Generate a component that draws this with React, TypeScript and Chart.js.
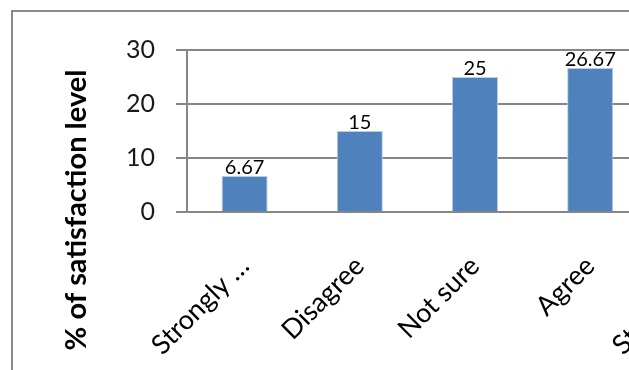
import React, { useEffect, useRef } from "react";
import { Chart, registerables } from "chart.js";

Chart.register(...registerables);

// Survey responses and their share of respondents (%)
const categories = ["Strongly …", "Disagree", "Not sure", "Agree", "Strongly …"];
const values = [6.67, 15, 25, 26.67, 26.66];
const yTicks = [0, 10, 20, 30];
const axisTitle = "% of satisfaction level";

const FONT = "Lato, 'Open Sans', 'DejaVu Sans', sans-serif";
const GRID = "#868686";
const CANVAS_W = 800;
const CANVAS_H = 420;

// Outer frame of the chart area (only the left and top edges fall in view)
const framePlugin = {
  id: "frame",
  beforeDraw(chart: Chart) {
    const { ctx } = chart;
    ctx.save();
    ctx.fillStyle = "#ffffff";
    ctx.fillRect(0, 0, chart.width, chart.height);
    ctx.strokeStyle = "#8a8a8a";
    ctx.lineWidth = 2;
    ctx.strokeRect(12, 11, chart.width + 100, chart.height + 100);
    ctx.restore();
  },
};

// Rotated y-axis title
const axisTitlePlugin = {
  id: "axisTitle",
  afterDraw(chart: Chart) {
    const { ctx } = chart;
    ctx.save();
    ctx.translate(77, 210);
    ctx.rotate(-Math.PI / 2);
    ctx.font = `bold 29px ${FONT}`;
    ctx.fillStyle = "#000000";
    ctx.textAlign = "center";
    ctx.textBaseline = "middle";
    ctx.fillText(axisTitle, 0, 0);
    ctx.restore();
  },
};

// Value labels above each bar
const valueLabelPlugin = {
  id: "valueLabels",
  afterDatasetsDraw(chart: Chart) {
    const { ctx } = chart;
    const meta = chart.getDatasetMeta(0);
    ctx.save();
    ctx.font = `20px ${FONT}`;
    ctx.fillStyle = "#000000";
    ctx.textAlign = "center";
    ctx.textBaseline = "alphabetic";
    meta.data.forEach((bar: any, i: number) => {
      ctx.fillText(String(values[i]), bar.x, bar.y - 2);
    });
    ctx.restore();
  },
};

export default function App() {
  const canvasRef = useRef<HTMLCanvasElement | null>(null);

  useEffect(() => {
    if (!canvasRef.current) return;
    const chart = new Chart(canvasRef.current, {
      type: "bar",
      data: {
        labels: categories,
        datasets: [
          {
            data: values,
            backgroundColor: "#4F81BD",
            borderColor: "#b9cde5",
            borderWidth: 1,
            barPercentage: 0.4,
            categoryPercentage: 1,
          },
        ],
      },
      options: {
        responsive: false,
        animation: false,
        devicePixelRatio: 1,
        layout: { padding: { left: 0, top: 50, right: 37, bottom: 0 } },
        plugins: {
          legend: { display: false },
          tooltip: { enabled: false },
          title: { display: false },
        },
        scales: {
          x: {
            grid: { display: false },
            border: { display: false },
            ticks: {
              autoSkip: false,
              minRotation: 45,
              maxRotation: 45,
              padding: 30,
              color: "#000000",
              font: { family: FONT, size: 27 },
            },
            afterFit(scale: any) {
              scale.height = CANVAS_H - 212;
            },
          },
          y: {
            min: 0,
            max: 30,
            afterBuildTicks(scale: any) {
              scale.ticks = yTicks.map((v) => ({ value: v }));
            },
            grid: {
              color: GRID,
              lineWidth: 2,
              tickLength: 11,
              drawTicks: true,
            },
            border: { display: true, color: GRID, width: 2 },
            ticks: {
              padding: 21,
              color: "#1a1a1a",
              font: { family: FONT, size: 25 },
            },
            afterFit(scale: any) {
              scale.width = 187;
            },
          },
        },
      },
      plugins: [framePlugin, axisTitlePlugin, valueLabelPlugin],
    });
    return () => chart.destroy();
  }, []);

  return (
    <div
      style={{
        position: "fixed",
        left: 0,
        top: 0,
        width: 629,
        height: 370,
        overflow: "hidden",
        background: "#ffffff",
      }}
    >
      <canvas
        ref={canvasRef}
        width={CANVAS_W}
        height={CANVAS_H}
        style={{ position: "absolute", left: 0, top: 0, width: CANVAS_W, height: CANVAS_H }}
      />
    </div>
  );
}
